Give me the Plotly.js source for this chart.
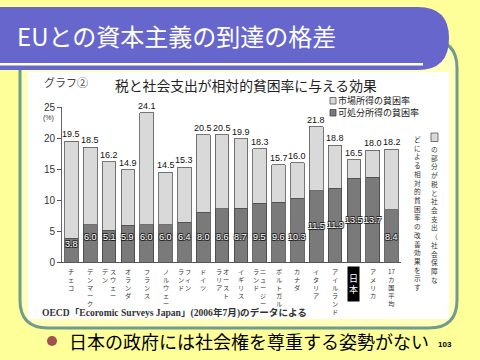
<!DOCTYPE html>
<html><head><meta charset="utf-8">
<script src="https://cdn.plot.ly/plotly-3.0.1.min.js"></script>
<style>html,body{margin:0;padding:0;background:#FFFF99;}#chart{width:480px;height:360px;}</style>
</head><body><div id="chart"></div>
<script>
// ---- data ----
const categories = ['チェコ','デンマーク','スウェーデン','オランダ','フランス','ノルウェー','フィンランド','ドイツ','オーストラリア','イギリス','ニュージーランド','ポルトガル','カナダ','イタリア','アイルランド','日本','アメリカ','17カ国平均'];
const marketRate = [19.5,18.5,16.2,14.9,24.1,14.5,15.3,20.5,20.5,19.9,18.3,15.7,16.0,21.8,18.8,16.5,18.0,18.2];
const disposableRate = [3.8,6.0,5.1,5.9,6.0,6.0,6.4,8.0,8.6,8.7,9.5,9.6,10.3,11.5,11.9,13.5,13.7,8.4];
const yTicks = [0,5,10,15,20,25];
const legendNames = ['市場所得の貧困率','可処分所得の貧困率'];
const slideTitle = 'EUとの資本主義の到達の格差';
const chartLabel = 'グラフ②';
const chartTitle = '税と社会支出が相対的貧困率に与える効果';
const noteRight = 'の部分が税と社会支出（社会保障な';
const noteLeft = 'どによる相対的貧困率の改善効果を示す';
const sourceNote = 'OECD「Ecoromic Surveys Japan」(2006年7月)のデータによる';
const bulletText = '日本の政府には社会権を尊重する姿勢がない';
const pageNo = '103';
const highlight = '日本';
// label column split (vertical writing, right column first)
const colSplit = {'スウェーデン':4,'フィンランド':3,'オーストラリア':4,'ニュージーランド':5};

// ---- helpers ----
const L=62, R=401, T=107, B=262;
const X = px => (px-L)/(R-L);
const Y = py => (B-py)/(B-T);
function vert(s){
  const out=[]; const ch=Array.from(s);
  for(let i=0;i<ch.length;i++){
    if(/[0-9]/.test(ch[i]) && out.length && /^[0-9]+$/.test(out[out.length-1]) ) out[out.length-1]+=ch[i];
    else out.push(ch[i]);
  }
  return out.join('<br>');
}
function rrect(x0,y0,x1,y1,r){
  return `M${X(x0+r)},${Y(y0)} L${X(x1-r)},${Y(y0)} Q${X(x1)},${Y(y0)} ${X(x1)},${Y(y0+r)} L${X(x1)},${Y(y1-r)} Q${X(x1)},${Y(y1)} ${X(x1-r)},${Y(y1)} L${X(x0+r)},${Y(y1)} Q${X(x0)},${Y(y1)} ${X(x0)},${Y(y1-r)} L${X(x0)},${Y(y0+r)} Q${X(x0)},${Y(y0)} ${X(x0+r)},${Y(y0)} Z`;
}
const JP = '"Noto Sans CJK JP", "Noto Sans", sans-serif';
const NUM = '"Liberation Sans", Arial, sans-serif';

const lightVals = marketRate.map((m,i)=>+(m-disposableRate[i]).toFixed(1));
const LIGHT='#D9D9D9', DARK='#7A7A7A';

const traces = [
  {type:'bar', x:categories, y:disposableRate, name:legendNames[1], marker:{color:DARK, line:{color:'#444', width:0.8}}, hoverinfo:'skip'},
  {type:'bar', x:categories, y:lightVals, name:legendNames[0], marker:{color:LIGHT, line:{color:'#555', width:0.8}}, hoverinfo:'skip'}
];

const shapes = [
  {type:'path', xref:'paper', yref:'paper', path:rrect(20,40,457,328,28), fillcolor:'#FFFFBB', line:{color:'#6F9C8B', width:3}, layer:'below'},
  {type:'path', xref:'paper', yref:'paper', path:`M${X(0)},${Y(7)} L${X(418)},${Y(7)} Q${X(449)},${Y(7)} ${X(449)},${Y(38)} Q${X(449)},${Y(70)} ${X(418)},${Y(70)} L${X(0)},${Y(70)} Z`, fillcolor:'#6666CC', line:{width:0}, layer:'below'},
  {type:'rect', xref:'paper', yref:'paper', x0:X(0), x1:X(423), y0:Y(63), y1:Y(65.5), fillcolor:'#FFFFFF', line:{width:0}, layer:'below'},
  {type:'rect', xref:'paper', yref:'paper', x0:X(28), x1:X(449), y0:Y(72), y1:Y(319), fillcolor:'#FFFFFF', line:{width:0}, layer:'below'},
  {type:'rect', xref:'paper', yref:'paper', x0:X(330), x1:X(336), y0:Y(97.5), y1:Y(104), fillcolor:LIGHT, line:{color:'#555', width:0.8}, layer:'above'},
  {type:'rect', xref:'paper', yref:'paper', x0:X(330), x1:X(336), y0:Y(109.5), y1:Y(116), fillcolor:DARK, line:{color:'#444', width:0.8}, layer:'above'},
  {type:'rect', xref:'paper', yref:'paper', x0:X(431), x1:X(438), y0:Y(133), y1:Y(141.5), fillcolor:LIGHT, line:{color:'#555', width:0.8}, layer:'above'},
  {type:'circle', xref:'paper', yref:'paper', x0:X(47), x1:X(57), y0:Y(336), y1:Y(346), fillcolor:'#A0524E', line:{width:0}, layer:'above'}
];

const ann = [];
const pa = (o)=>Object.assign({xref:'paper', yref:'paper', showarrow:false}, o);
ann.push(pa({x:X(42), y:Y(82), xanchor:'left', yanchor:'middle', text:chartLabel, font:{family:JP, size:11, color:'#444'}}));
ann.push(pa({x:X(113), y:Y(85), xanchor:'left', yanchor:'middle', text:chartTitle, font:{family:JP, size:13.8, color:'#222'}}));
ann.push(pa({x:X(337), y:Y(100.7), xanchor:'left', yanchor:'middle', borderpad:0, text:legendNames[0], font:{family:JP, size:9, color:'#222'}}));
ann.push(pa({x:X(337), y:Y(112.7), xanchor:'left', yanchor:'middle', borderpad:0, text:legendNames[1], font:{family:JP, size:9, color:'#222'}}));
ann.push(pa({x:X(48.5), y:Y(118), xanchor:'center', yanchor:'middle', borderpad:0, text:'(%)', font:{family:NUM, size:7, color:'#333'}}));
ann.push(pa({x:X(434.5), y:Y(142), xanchor:'center', yanchor:'top', text:vert(noteRight), font:{family:JP, size:6.7, color:'#333'}}));
ann.push(pa({x:X(417), y:Y(132), xanchor:'center', yanchor:'top', text:vert(noteLeft), font:{family:JP, size:6.7, color:'#333'}}));
ann.push(pa({x:X(40), y:Y(313), xanchor:'left', yanchor:'middle', text:sourceNote, font:{family:'"Liberation Serif", "Noto Sans CJK JP", serif', size:9.6, color:'#333', weight:'bold'}}));
ann.push(pa({x:X(68), y:Y(341), xanchor:'left', yanchor:'middle', borderpad:0, text:bulletText, font:{family:JP, size:18, color:'#000'}}));
ann.push(pa({x:X(445), y:Y(344.5), xanchor:'center', yanchor:'middle', borderpad:0, text:pageNo, font:{family:NUM, size:8, color:'#000', weight:'bold'}}));

categories.forEach((c,i)=>{
  const base = {xref:'x', yref:'y', x:c, y:0, yanchor:'top', showarrow:false};
  if(c===highlight){
    ann.push(Object.assign({}, base, {yshift:-4, text:vert(c), width:11, height:34, bgcolor:'#000', borderpad:0, font:{family:JP, size:9, color:'#fff'}}));
  } else if(colSplit[c]){
    const k=colSplit[c], ch=Array.from(c);
    ann.push(Object.assign({}, base, {yshift:-3, xshift:3.5, text:vert(ch.slice(0,k).join('')), font:{family:JP, size:6.2, color:'#333'}}));
    ann.push(Object.assign({}, base, {yshift:-3, xshift:-3.5, text:vert(ch.slice(k).join('')), font:{family:JP, size:6.2, color:'#333'}}));
  } else {
    ann.push(Object.assign({}, base, {yshift:-3, text:vert(c), font:{family:JP, size:6.2, color:'#333'}}));
  }
  ann.push({xref:'x', yref:'y', x:c, y:marketRate[i], yanchor:'bottom', yshift:0, showarrow:false, text:marketRate[i].toFixed(1), font:{family:NUM, size:9, color:'#111'}});
  const d = disposableRate[i];
  const ly = d >= 11 ? d/2 : Math.min(4, d-0.9);
  ann.push({xref:'x', yref:'y', x:c, y:ly, yanchor:'middle', showarrow:false, text:d.toFixed(1), font:{family:NUM, size:9, color:'#fff', shadow:'0.7px 0.7px 0 #222, -0.7px -0.7px 0 #222, 0.7px -0.7px 0 #222, -0.7px 0.7px 0 #222'}});
});

const layout = {
  width:480, height:360,
  margin:{l:L, r:480-R, t:T, b:360-B, pad:0},
  paper_bgcolor:'#FFFF99', plot_bgcolor:'rgba(0,0,0,0)',
  showlegend:false, hovermode:false,
  barmode:'stack', bargap:0.28,
  title:{text:slideTitle, x:17/480, xanchor:'left', y:1-38/360, yanchor:'middle', xref:'container', yref:'container', font:{family:JP, size:24, color:'#FFFFFF'}},
  xaxis:{type:'category', range:[-0.5,17.5], showticklabels:false, ticks:'', showline:true, linecolor:'#555', linewidth:1, showgrid:false, zeroline:false, fixedrange:true},
  yaxis:{range:[0,25], tickvals:yTicks, ticktext:yTicks.map(String), ticks:'outside', ticklen:4, tickcolor:'#555', showline:true, linecolor:'#666', linewidth:1, showgrid:false, zeroline:false, tickfont:{family:NUM, size:10, color:'#333'}, fixedrange:true},
  shapes:shapes, annotations:ann
};
Plotly.newPlot('chart', traces, layout, {displayModeBar:false, staticPlot:true});
</script></body></html>
